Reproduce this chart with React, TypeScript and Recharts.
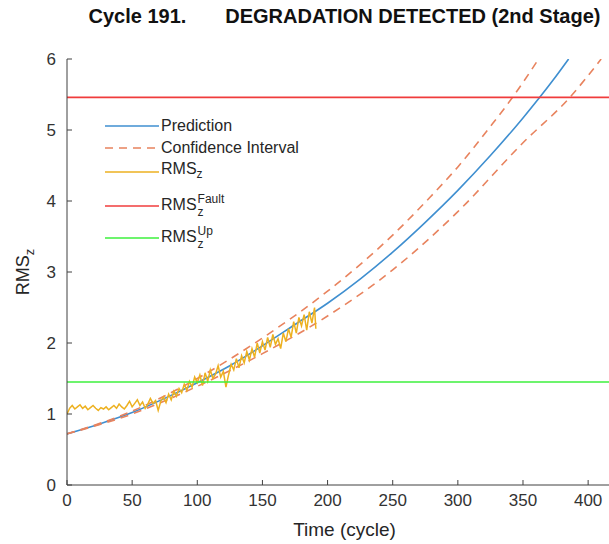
import React from "react";
import { LineChart, Line, XAxis, YAxis, ReferenceLine } from "recharts";

// Cycles at which prediction / interval curves were read
const predX = [0, 25, 50, 75, 100, 125, 150, 175, 200, 225, 250, 275, 300, 325, 350, 373, 385];
const predY = [0.72, 0.86, 1.02, 1.22, 1.44, 1.68, 1.96, 2.26, 2.56, 2.9, 3.28, 3.7, 4.15, 4.64, 5.17, 5.7, 6.0];

const upperX = [0, 50, 100, 150, 200, 250, 279, 300, 325, 342, 362];
const upperY = [0.72, 1.04, 1.5, 2.07, 2.73, 3.52, 4.06, 4.48, 5.05, 5.46, 6.0];

const lowerX = [0, 50, 100, 150, 200, 250, 300, 350, 386, 410];
const lowerY = [0.72, 1.0, 1.39, 1.85, 2.38, 3.03, 3.85, 4.82, 5.46, 6.0];

// measured RMS_z, every 2 cycles up to cycle 191
const rmsX = [
  0, 2, 4, 6, 8, 10, 12, 14, 16, 18, 20, 22, 24, 26, 28, 30, 32, 34, 36, 38,
  40, 42, 44, 46, 48, 50, 52, 54, 56, 58, 60, 62, 64, 66, 68, 70, 72, 74, 76, 78,
  80, 82, 84, 86, 88, 90, 92, 94, 96, 98, 100, 102, 104, 106, 108, 110, 112, 114, 116, 118,
  120, 122, 124, 126, 128, 130, 132, 134, 136, 138, 140, 142, 144, 146, 148, 150, 152, 154, 156, 158,
  160, 162, 164, 166, 168, 170, 172, 174, 176, 178, 180, 182, 184, 186, 188, 190, 191,
];
const rmsY = [
  1.0, 1.08, 1.12, 1.07, 1.1, 1.13, 1.08, 1.11, 1.06, 1.09, 1.12, 1.08, 1.05, 1.09, 1.07, 1.1, 1.06, 1.09, 1.12, 1.08,
  1.14, 1.1, 1.07, 1.12, 1.18, 1.1, 1.15, 1.2, 1.12, 1.17, 1.08, 1.14, 1.22, 1.15, 1.19, 1.05, 1.18, 1.24, 1.16, 1.28,
  1.2, 1.32, 1.25, 1.36, 1.3, 1.42, 1.33, 1.46, 1.38, 1.52, 1.44, 1.55, 1.4, 1.58, 1.46, 1.62, 1.5, 1.56, 1.68, 1.52,
  1.6, 1.38, 1.55, 1.7, 1.62, 1.78, 1.65, 1.82, 1.72, 1.88, 1.76, 1.92, 1.8, 2.0, 1.86, 2.02, 1.9, 2.08, 1.94, 2.12,
  1.98, 2.06, 1.92, 2.14, 2.02, 2.2, 2.08, 2.3, 2.14, 2.36, 2.24, 2.4, 2.18, 2.44, 2.28, 2.5, 2.2,
];

const rmsFault = 5.46;
const rmsUp = 1.45;

const xTicks = [0, 50, 100, 150, 200, 250, 300, 350, 400];
const yTicks = [0, 1, 2, 3, 4, 5, 6];

const zip = (xs: number[], ys: number[]) => xs.map((x, i) => ({ x, y: ys[i] }));

const prediction = zip(predX, predY);
const upper = zip(upperX, upperY);
const lower = zip(lowerX, lowerY);
const rms = zip(rmsX, rmsY);

const BLUE = "#3f8fd0";
const ORANGE = "#e8835e";
const YELLOW = "#edb120";
const RED = "#f03c3c";
const GREEN = "#3cf03c";
const FONT = "'Liberation Sans', Arial, sans-serif";

const supSub = (sup: string) => (
  <span
    style={{
      display: "inline-flex",
      flexDirection: "column",
      verticalAlign: "middle",
      fontSize: 12,
      lineHeight: "13px",
      marginLeft: 1,
    }}
  >
    <span>{sup}</span>
    <span>z</span>
  </span>
);

function LegendBox() {
  const sample = (color: string, dash?: string) => (
    <svg width={54} height={4} style={{ display: "block" }}>
      <line x1={0} y1={2} x2={54} y2={2} stroke={color} strokeWidth={1.5} strokeDasharray={dash} />
    </svg>
  );
  const row = (top: number, color: string, label: React.ReactNode, dash?: string) => (
    <div style={{ position: "absolute", top, left: 0, height: 0, display: "flex", alignItems: "center", whiteSpace: "nowrap" }}>
      {sample(color, dash)}
      <span style={{ marginLeft: 2, lineHeight: "18px" }}>{label}</span>
    </div>
  );
  return (
    <div style={{ position: "absolute", left: 105, top: 0, width: 240, fontFamily: FONT, fontSize: 16, color: "#262626" }}>
      {row(126, BLUE, "Prediction")}
      {row(148, ORANGE, "Confidence Interval", "8 6")}
      {row(172, YELLOW, <span>RMS<sub style={{ fontSize: 12 }}>z</sub></span>)}
      {row(206, RED, <span>RMS{supSub("Fault")}</span>)}
      {row(238, GREEN, <span>RMS{supSub("Up")}</span>)}
    </div>
  );
}

const YLabel = (props: any) => {
  const vb = props.viewBox || {};
  const cy = vb.y + vb.height / 2;
  return (
    <text x={23} y={cy} transform={`rotate(-90, 23, ${cy})`} textAnchor="middle" dominantBaseline="central" fill="#262626" fontSize={18} fontFamily={FONT}>
      RMS<tspan fontSize={13} dy={6}>z</tspan>
    </text>
  );
};

export default function App() {
  return (
    <div style={{ position: "absolute", left: 0, top: 0, width: 609, height: 544, overflow: "hidden", background: "#fff" }}>
      <div
        style={{
          position: "absolute",
          top: 5,
          left: 67,
          width: 555,
          textAlign: "center",
          fontFamily: FONT,
          fontWeight: "bold",
          fontSize: 20,
          color: "#111",
          whiteSpace: "pre",
        }}
      >
        {"Cycle 191.       DEGRADATION DETECTED (2nd Stage)"}
      </div>
      <LineChart width={622} height={544} margin={{ top: 59, right: 0, bottom: 0, left: 0 }}>
        <XAxis
          type="number"
          dataKey="x"
          domain={[0, 426]}
          ticks={xTicks}
          allowDataOverflow
          height={59}
          stroke="#404040"
          tickSize={-5}
          tickMargin={14}
          tick={{ fill: "#333", fontSize: 17, fontFamily: FONT }}
          label={{ value: "Time (cycle)", position: "insideBottom", offset: 8, fill: "#262626", fontSize: 19, fontFamily: FONT }}
        />
        <YAxis
          type="number"
          dataKey="y"
          domain={[0, 6]}
          ticks={yTicks}
          allowDataOverflow
          width={67}
          stroke="#404040"
          tickSize={-5}
          tickMargin={16}
          tick={{ fill: "#333", fontSize: 17, fontFamily: FONT }}
          label={<YLabel />}
        />
        <Line data={prediction} dataKey="y" type="monotone" stroke={BLUE} strokeWidth={1.6} dot={false} isAnimationActive={false} />
        <Line data={upper} dataKey="y" type="monotone" stroke={ORANGE} strokeWidth={1.6} strokeDasharray="8 6" dot={false} isAnimationActive={false} />
        <Line data={lower} dataKey="y" type="monotone" stroke={ORANGE} strokeWidth={1.6} strokeDasharray="8 6" dot={false} isAnimationActive={false} />
        <Line data={rms} dataKey="y" type="linear" stroke={YELLOW} strokeWidth={1.5} dot={false} isAnimationActive={false} />
        <ReferenceLine y={rmsFault} stroke={RED} strokeWidth={1.6} />
        <ReferenceLine y={rmsUp} stroke={GREEN} strokeWidth={1.6} />
      </LineChart>
      <LegendBox />
    </div>
  );
}
